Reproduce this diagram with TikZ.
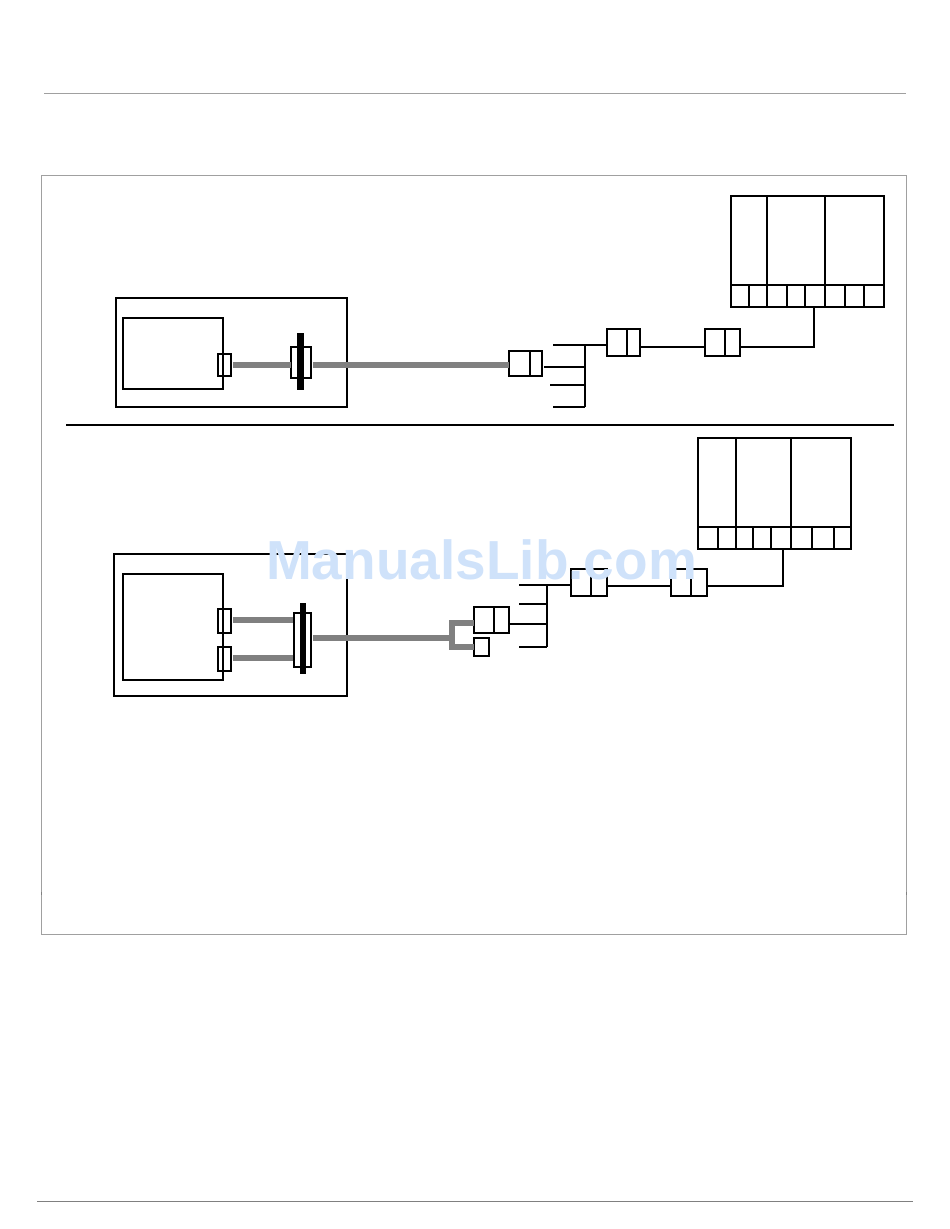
\documentclass[tikz,border=0pt]{standalone}
\usepackage{fontspec}
\usepackage{xcolor}
\newfontfamily\markfont{Liberation Sans}
\definecolor{rulegray}{HTML}{A0A0A0}
\definecolor{cablegray}{HTML}{808080}
\definecolor{markblue}{HTML}{CFE2FA}
\tikzset{
  boxnode/.style={draw=black, line width=2pt, inner sep=0pt, outer sep=0pt},
  wire/.style={draw=black, line width=2pt},
  cable/.style={draw=cablegray, line width=6pt},
  barnode/.style={fill=black, inner sep=0pt, outer sep=0pt},
  rule/.style={draw=rulegray, line width=1pt}
}
\begin{document}
\begin{tikzpicture}[x=1pt, y=-1pt]
\useasboundingbox (0,0) rectangle (950,1229);

% Page rules and frame
\coordinate (ruletopl) at (44,93);
\coordinate (ruletopr) at (906,93);
\coordinate (rulebotl) at (37,1201);
\coordinate (rulebotr) at (913,1201);
\draw[rule] (ruletopl) -- (ruletopr);
\draw[rule, draw=gray] (rulebotl) -- (rulebotr);
\node[draw=rulegray, line width=1pt, inner sep=0pt, minimum width=865, minimum height=759] (frame) at (473.5,555) {};
\foreach \x in {41,906}
  \draw[draw=gray, line width=1pt] (\x,892) -- (\x,895);

% Divider between the two layouts
\coordinate (midl) at (66,425);
\coordinate (midr) at (894,425);
\draw[wire] (midl) -- (midr);

% Upper layout: enclosure
\node[boxnode, minimum width=231, minimum height=109] (topcase) at (231.5,352.5) {};
\node[boxnode, minimum width=100, minimum height=71] (topunit) at (173,353.5) {};
\node[boxnode, minimum width=13, minimum height=22] (topport) at (224.5,365) {};
\node[barnode, minimum width=7, minimum height=57] (topbar) at (300.5,361.5) {};
\node[boxnode, minimum width=20, minimum height=31] (topflange) at (301,362.5) {};
\node[boxnode, minimum width=33, minimum height=25] (topjack) at (525.5,363.5) {};
\draw[wire] (530,351) -- (530,376);
\draw[cable] (233,365) -- (291,365);
\draw[cable] (313,365) -- (topjack.west |- 0,365);

% Upper layout: bus and terminal rack
\coordinate (topbusa) at (585,345);
\coordinate (topbusb) at (585,367);
\coordinate (topbusc) at (585,385);
\coordinate (topbusd) at (585,407);
\node[boxnode, minimum width=33, minimum height=27] (topplug) at (623.5,342.5) {};
\node[boxnode, minimum width=35, minimum height=27] (topcoup) at (722.5,342.5) {};
\draw[wire] (627,329) -- (627,356);
\draw[wire] (725,329) -- (725,356);
\node[boxnode, minimum width=153, minimum height=111] (toprack) at (807.5,251.5) {};
\node[boxnode, minimum width=153, minimum height=22] (toprow) at (807.5,296) {};
\foreach \x in {767,825}
  \draw[wire] (\x,196) -- (\x,285);
\foreach \x in {749,767,787,805,825,845,864}
  \draw[wire] (\x,285) -- (\x,307);
\draw[wire] (topbusa) -- (topbusd);
\draw[wire] (553,345) -- (topbusa) -- (topplug.west |- topbusa);
\draw[wire] (544,367) -- (topbusb);
\draw[wire] (550,385) -- (topbusc);
\draw[wire] (553,407) -- (topbusd);
\draw[wire] (641,346.5) -- (705,346.5);
\draw[wire] (topcoup.east |- 0,346.5) -| (813.5,307);

% Lower layout: enclosure
\node[boxnode, minimum width=233, minimum height=142] (lowcase) at (230.5,625) {};
\node[boxnode, minimum width=100, minimum height=106] (lowunit) at (173,627) {};
\node[boxnode, minimum width=13, minimum height=24] (lowporta) at (224.5,621) {};
\node[boxnode, minimum width=13, minimum height=24] (lowportb) at (224.5,659) {};
\node[barnode, minimum width=6, minimum height=71] (lowbar) at (303,638.5) {};
\node[boxnode, minimum width=17, minimum height=54] (lowflange) at (302.5,640) {};
\node[boxnode, minimum width=35, minimum height=26] (lowjack) at (491.5,620) {};
\node[boxnode, minimum width=15, minimum height=18] (lowstub) at (481.5,647) {};
\draw[wire] (494,607) -- (494,633);
\draw[cable] (233,620) -- (293,620);
\draw[cable] (233,658) -- (293,658);
\draw[cable] (313,638) -- (451,638);
\draw[cable] (lowjack.west |- 0,622.5) -| (451.5,647) -- (lowstub.west |- 0,647);

% Lower layout: bus and terminal rack
\coordinate (lowbusa) at (547,585);
\coordinate (lowbusb) at (547,604);
\coordinate (lowbusc) at (547,624);
\coordinate (lowbusd) at (547,647);
\node[boxnode, minimum width=36, minimum height=27] (lowplug) at (589,582.5) {};
\node[boxnode, minimum width=36, minimum height=27] (lowcoup) at (689,582.5) {};
\draw[wire] (591,569) -- (591,596);
\draw[wire] (691,569) -- (691,596);
\node[boxnode, minimum width=153, minimum height=111] (lowrack) at (774.5,493.5) {};
\node[boxnode, minimum width=153, minimum height=22] (lowrow) at (774.5,538) {};
\foreach \x in {735.5,791}
  \draw[wire] (\x,438) -- (\x,527);
\foreach \x in {718,735.5,753,771,791,812,834}
  \draw[wire] (\x,527) -- (\x,549);
\draw[wire] (lowbusa) -- (lowbusd);
\draw[wire] (519,585) -- (lowbusa) -- (lowplug.west |- lowbusa);
\draw[wire] (519,604) -- (lowbusb);
\draw[wire] (510,624) -- (lowbusc);
\draw[wire] (519,647) -- (lowbusd);
\draw[wire] (608,586) -- (671,586);
\draw[wire] (lowcoup.east |- 0,586) -| (782.5,549);

% Watermark
\node[font=\markfont\bfseries\fontsize{55}{60}\selectfont, text=markblue, inner sep=0pt] (mark) at (481.5,559.5) {ManualsLib.com};
\end{tikzpicture}
\end{document}
